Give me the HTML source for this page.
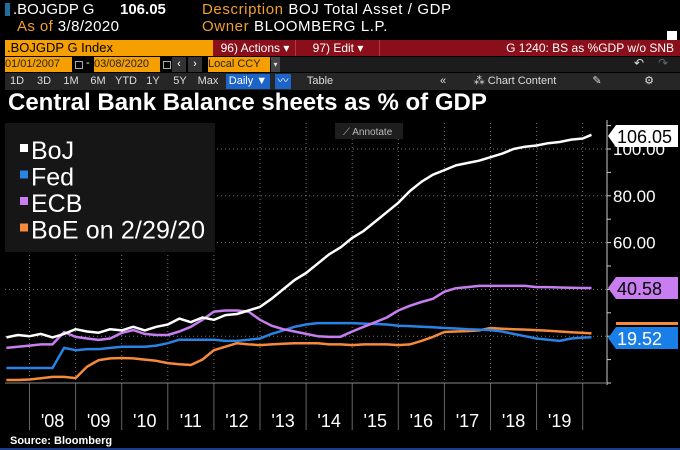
<!DOCTYPE html>
<html><head><meta charset="utf-8">
<style>
body{margin:0;width:680px;height:450px;background:#000;overflow:hidden;font-family:"Liberation Sans",sans-serif;position:relative}
.a{position:absolute;white-space:nowrap}
.o{color:#f0a030}.w{color:#fff}
.btn{position:absolute;top:74px;height:15px;font-size:11px;color:#ddd;line-height:15px;text-align:center}
</style></head><body>
<div class="a" style="left:5px;top:3px;width:5px;height:13px;background:#1d6fa0"></div>
<div class="a w" style="left:13px;top:1px;font-size:15px">.BOJGDP G</div>
<div class="a w" style="left:120px;top:1px;font-size:15px;font-weight:bold">106.05</div>
<div class="a" style="left:202px;top:1px;font-size:15px;letter-spacing:0.6px"><span class="o">Description</span> <span class="w">BOJ Total Asset / GDP</span></div>
<div class="a" style="left:17px;top:18px;font-size:15px;letter-spacing:0.4px"><span class="o">As of</span> <span class="w">3/8/2020</span></div>
<div class="a" style="left:202px;top:18px;font-size:15px;letter-spacing:0.6px"><span class="o">Owner</span> <span class="w">BLOOMBERG L.P.</span></div>
<div class="a" style="left:667px;top:31px;width:10px;height:13px;background:#fff"></div>
<div class="a" style="left:5px;top:40px;width:207px;height:16px;background:#f5a000;color:#000;font-size:13px;line-height:16px;padding-left:2px">.BOJGDP G Index</div>
<div class="a" style="left:213px;top:40px;width:467px;height:16px;background:#8a0f1a"></div>
<div class="a w" style="left:215px;top:40px;width:80px;height:16px;font-size:12px;line-height:16px;text-align:center;border-right:1px solid #c03040">96) Actions ▾</div>
<div class="a w" style="left:297px;top:40px;width:82px;height:16px;font-size:12px;line-height:16px;text-align:center;border-right:1px solid #c03040">97) Edit ▾</div>
<div class="a w" style="right:6px;top:40px;font-size:12px;line-height:16px">G 1240: BS as %GDP w/o SNB</div>
<div class="a" style="left:280px;top:57px;width:400px;height:15px;background:#1c1c1c"></div>
<div class="a" style="left:5px;top:57px;width:67px;height:15px;background:#f5a000;color:#222;font-size:11px;line-height:15px">01/01/2007</div>
<div class="a" style="left:75px;top:61px;width:6px;height:6px;border:1px solid #aaa"></div>
<div class="a w" style="left:86px;top:57px;font-size:11px">-</div>
<div class="a" style="left:94px;top:57px;width:66px;height:15px;background:#f5a000;color:#222;font-size:11px;line-height:15px">03/08/2020</div>
<div class="a" style="left:163px;top:61px;width:6px;height:6px;border:1px solid #aaa"></div>
<div class="a" style="left:172px;top:57px;width:14px;height:15px;background:#333;color:#fff;font-size:11px;text-align:center;line-height:15px">‹</div>
<div class="a" style="left:188px;top:57px;width:14px;height:15px;background:#333;color:#fff;font-size:11px;text-align:center;line-height:15px">›</div>
<div class="a" style="left:208px;top:57px;width:62px;height:15px;background:#f5a000;color:#222;font-size:11px;line-height:15px">Local CCY</div>
<div class="a" style="left:271px;top:57px;width:9px;height:15px;background:#444;color:#ddd;font-size:8px;line-height:15px;text-align:center">▾</div>
<div class="a" style="left:634px;top:56px;color:#ddd;font-size:12px">↶</div>
<div class="a" style="left:658px;top:56px;color:#666;font-size:12px">↷</div>
<div class="a" style="left:5px;top:73px;width:675px;height:17px;background:#262626"></div>
<div class="btn" style="left:8px;width:18px">1D</div>
<div class="btn" style="left:35px;width:18px">3D</div>
<div class="btn" style="left:62px;width:18px">1M</div>
<div class="btn" style="left:89px;width:18px">6M</div>
<div class="btn" style="left:114px;width:24px">YTD</div>
<div class="btn" style="left:144px;width:18px">1Y</div>
<div class="btn" style="left:171px;width:18px">5Y</div>
<div class="btn" style="left:196px;width:24px">Max</div>
<div class="btn" style="left:226px;width:44px;background:#1c64c8;color:#fff">Daily ▼</div>
<div class="btn" style="left:275px;width:16px;background:#1c64c8;color:#fff">〰</div>
<div class="btn" style="left:300px;width:40px">Table</div>
<div class="btn" style="left:436px;width:14px">«</div>
<div class="btn" style="left:470px;width:90px">⁂ Chart Content</div>
<div class="btn" style="left:590px;width:14px">✎</div>
<div class="btn" style="left:642px;width:14px">⚙</div>
<div class="a w" style="left:8px;top:89px;font-size:24px;font-weight:bold">Central Bank Balance sheets as % of GDP</div>

<svg class="a" style="left:0;top:0" width="680" height="450">
<g id="grid"></g>
<rect x="5" y="123" width="210" height="129" fill="#161616"/>
<rect x="335" y="123" width="68" height="16" fill="#1e1e1e"/>
<text x="343" y="135" fill="#bbb" font-size="10" font-family="Liberation Sans, sans-serif">⟋ Annotate</text>
<g id="legend"></g>
<g id="series"></g>
<g id="axis"></g>
<text x="10" y="444" fill="#fff" font-size="11" font-weight="bold" font-family="Liberation Sans, sans-serif">Source: Bloomberg</text>
<rect x="0" y="448" width="680" height="2" fill="#1a3c8c"/>
</svg>
<script>
const times=[2007.5,2007.75,2008,2008.25,2008.5,2008.75,2009,2009.25,2009.5,2009.75,2010,2010.25,2010.5,2010.75,2011,2011.25,2011.5,2011.75,2012,2012.25,2012.5,2012.75,2013,2013.25,2013.5,2013.75,2014,2014.25,2014.5,2014.75,2015,2015.25,2015.5,2015.75,2016,2016.25,2016.5,2016.75,2017,2017.25,2017.5,2017.75,2018,2018.25,2018.5,2018.75,2019,2019.25,2019.5,2019.75,2020,2020.19];
const boj=[19.5,20.5,20,21,19.5,21,23,22,21.5,23,22.5,24,22.5,24,25,27.5,26,28,27,29,29.5,31,32.5,36,40,44,47,51,55,58,62,65,69,73,77,82,86,89,91,93,94,95,96.5,98,100,101,101.5,102.5,103,104,104.5,106.05];
const fed=[6.4,6.4,6.4,6.4,6.4,15,14,14.5,14.5,15,15.5,15.5,15.5,16,17,18.5,18.5,18.5,18.5,18,18,18.5,19,21,22.5,24,25,25.6,25.6,25.6,25.6,25.4,25.2,25,24.5,24.3,24,23.8,23.5,23.3,23,22.8,22.6,22,21,20,19,18.5,18,19,19.4,19.52];
const ecb=[15,15.5,16,16.5,16.5,21.8,19.7,19,18.4,19,21.4,22.6,21,20.5,20.5,22,24,27,30.5,31,31,30.5,27,24.5,23,22,21,20,19.7,19.8,22,24,26,28,31,33,34.6,36,39,40.5,41,41.5,41.5,41.5,41.5,41.5,41,41,40.8,40.7,40.6,40.58];
const boe=[1.3,1.3,1.5,2,2.6,2.6,2.1,7,9.8,10.5,10.7,10.5,10,9.5,8.5,8,7.7,10,14,15.5,17,16.5,16.2,16.5,16.8,17,17,17,16.5,16.5,16.2,16.5,16.5,16.5,16.2,16.5,18,19.7,21.8,22,22.2,22.5,23.5,23.2,23,22.8,22.6,22.3,22,21.7,21.4,21.2];
const years=[2008,2009,2010,2011,2012,2013,2014,2015,2016,2017,2018,2019];
const yearLabels=["'08","'09","'10","'11","'12","'13","'14","'15","'16","'17","'18","'19"];
const yTicks=[60,80,100];
const seriesNames=["BoJ","Fed","ECB","BoE on 2/29/20"];
const NS="http://www.w3.org/2000/svg";
const X=t=>29.5+(t-2008)*46.1;
const Y=v=>383-2.34*v;
function mk(tag,attrs,parent){const e=document.createElementNS(NS,tag);for(const k in attrs)e.setAttribute(k,attrs[k]);parent.appendChild(e);return e;}
const grid=document.getElementById('grid'),axis=document.getElementById('axis'),ser=document.getElementById('series'),leg=document.getElementById('legend');
[0,20,40,60,80,100].forEach(v=>{const l=mk('line',{x1:5,x2:606,y1:Y(v),y2:Y(v),stroke:'#777','stroke-dasharray':'1 3'},grid);

});
years.concat([2020]).forEach(t=>{const l=mk('line',{x1:X(t),x2:X(t),y1:123,y2:383,stroke:'#777','stroke-dasharray':'1 3'},grid);


const s=mk('line',{x1:X(t),x2:X(t),y1:383,y2:430,stroke:'#666'},grid);

});
const xl=mk('line',{x1:5,x2:606,y1:383,y2:383,stroke:'#888'},axis);


const yl=mk('line',{x1:607,x2:607,y1:120,y2:385,stroke:'#ccc'},axis);


for(let v=0;v<=110;v+=10){const tk=mk('line',{x1:607,x2:611,y1:Y(v),y2:Y(v),stroke:'#ccc'},axis);

}
yTicks.forEach(v=>{const t=mk('text',{x:613,y:Y(v)+6,fill:'#fff','font-size':17,'font-family':'Liberation Sans, sans-serif'},axis);t.textContent=v.toFixed(2);

});
years.forEach((t,i)=>{const e=mk('text',{x:X(t+0.5),y:427,fill:'#fff','font-size':18,'text-anchor':'middle','font-family':'Liberation Sans, sans-serif'},axis);e.textContent=yearLabels[i];

});
const colors=['#ffffff','#2a82e4','#c87ef0','#f58a3a'];
const data=[boj,fed,ecb,boe];
const sNames=['boj-line','fed-line','ecb-line','boe-line'];
[3,1,2,0].forEach(i=>{const d=data[i].map((v,j)=>(j?'L':'M')+X(times[j]).toFixed(1)+' '+Y(v).toFixed(1)).join(' ');
const p=mk('path',{d:d,fill:'none',stroke:colors[i],'stroke-width':2.5,'stroke-linejoin':'round'},ser);

});
seriesNames.forEach((n,i)=>{const y=156+i*26.5;
const r=mk('rect',{x:20,y:y-12,width:8,height:8,fill:colors[i]},leg);


const t=mk('text',{x:31,y:y+3,fill:'#fff','font-size':25,textLength:n.length>5?174:null,'font-family':'Liberation Sans, sans-serif'},leg);t.textContent=n;
if(n.length<=5)t.removeAttribute('textLength');

});
function tag(v,yc,bg,fg,name){const y0=yc-11;
const p=mk('path',{d:`M608 ${yc} L616 ${y0} L678 ${y0} L678 ${y0+22} L616 ${y0+22} Z`,fill:bg},axis);


const t=mk('text',{x:617,y:yc+7,fill:fg,'font-size':18,'font-family':'Liberation Sans, sans-serif'},axis);t.textContent=v.toFixed(2);

}
const ob=mk('rect',{x:616,y:322,width:62,height:3,fill:'#f58a3a'},axis);


tag(boj[boj.length-1],136,'#fff','#000','boj-value-label');
tag(ecb[ecb.length-1],288,'#c87ef0','#000','ecb-value-label');
tag(fed[fed.length-1],338,'#1a7ee8','#fff','fed-value-label');
</script>
</body></html>
